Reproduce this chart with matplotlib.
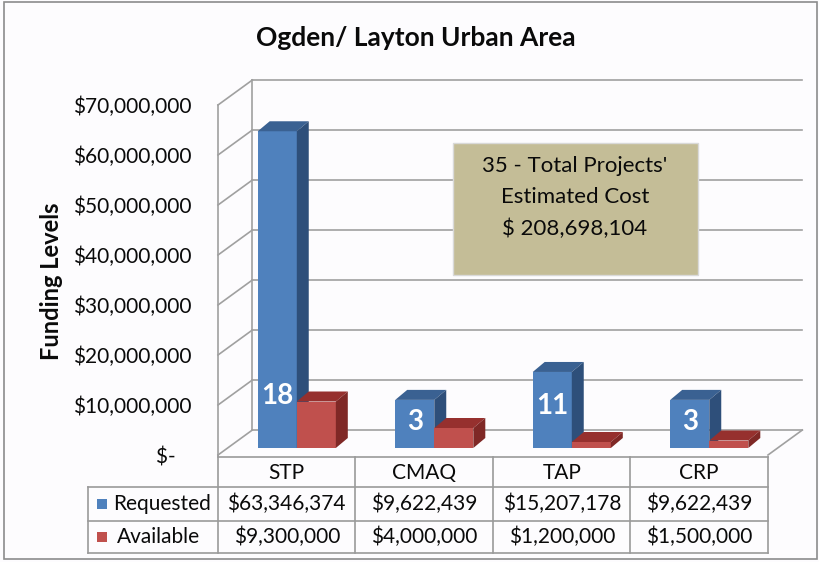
import matplotlib
matplotlib.use("Agg")
import numpy as np
from matplotlib import pyplot as plt
from matplotlib.patches import Rectangle, Polygon

plt.rcParams['font.family'] = ['Lato', 'DejaVu Sans']

categories = ["STP", "CMAQ", "TAP", "CRP"]
requested = [63346374, 9622439, 15207178, 9622439]
available = [9300000, 4000000, 1200000, 1500000]
project_counts = [18, 3, 11, 3]
series_names = ["Requested", "Available"]
yticks = [0, 10e6, 20e6, 30e6, 40e6, 50e6, 60e6, 70e6]

blue = ("#4F81BD", "#3A6192", "#2E4F7A")   # front, top, side
red = ("#C0504D", "#96302E", "#7F2826")
grid_c = "#A0A0A0"
txt_c = "#0A0A0A"

W, H = 820, 562
fig = plt.figure(figsize=(W / 100, H / 100), dpi=100)
fig.patch.set_facecolor("#FDFCFE")

# overlay in pixel coords for frame and table
ov = fig.add_axes([0, 0, 1, 1])
ov.set_xlim(0, W)
ov.set_ylim(H, 0)
ov.axis("off")
ov.add_patch(Rectangle((4, 2), 813, 557, fill=False, ec="#8C8C8C", lw=1.2))

# plot area: x 0..4 -> px 218..768, y 0..70M -> px 455..105
x0px, x1px, y0px, y1px = 218, 768, 455, 105
ax = fig.add_axes([x0px / W, (H - y0px) / H, (x1px - x0px) / W, (y0px - y1px) / H])
ax.set_xlim(0, 4)
ax.set_ylim(0, 70e6)
ax.patch.set_alpha(0)
for s in ax.spines.values():
    s.set_visible(False)
ax.set_xticks([])
ax.set_yticks(yticks)
ax.set_yticklabels(["$-   " if v == 0 else "${:,.0f}".format(v) for v in yticks],
                   fontsize=15, color=txt_c)
ax.tick_params(axis="y", length=0, pad=19)

# 3-D walls
dx, dy = 0.25, 5.0e6
for v in yticks:
    ax.plot([0, dx], [v, v + dy], color=grid_c, lw=1.2, clip_on=False)
    ax.plot([dx, 4 + dx], [v + dy, v + dy], color=grid_c, lw=1.2, clip_on=False)
ax.plot([dx, dx], [dy, 70e6 + dy], color=grid_c, lw=1.2, clip_on=False)
ax.plot([0, 0], [0, 70e6], color=grid_c, lw=1.2, clip_on=False)
ax.plot([4, 4 + dx], [0, dy], color=grid_c, lw=1.2, clip_on=False)

# bars
w = 0.284
bx, by = 0.073, 1.4e6
ddx, ddy = 0.087, 2.0e6


def bar3d(xl, v, cols):
    ax.add_patch(Rectangle((xl, by), w, v, fc=cols[0], ec="none", zorder=3, clip_on=False))
    top = [(xl, by + v), (xl + w, by + v), (xl + w + ddx, by + v + ddy), (xl + ddx, by + v + ddy)]
    side = [(xl + w, by), (xl + w + ddx, by + ddy), (xl + w + ddx, by + v + ddy), (xl + w, by + v)]
    ax.add_patch(Polygon(top, fc=cols[1], ec="none", zorder=3, clip_on=False))
    ax.add_patch(Polygon(side, fc=cols[2], ec="none", zorder=3, clip_on=False))


for i in range(len(categories)):
    bar3d(i + 0.5 - w + bx, requested[i], blue)
    bar3d(i + 0.5 + bx, available[i], red)
    ax.text(i + 0.5 - w / 2 + bx, by + min(requested[i] * 0.55, 10.5e6), str(project_counts[i]),
            color="white", fontsize=20, fontweight="bold", ha="center", va="center", zorder=4)

# total box
ax.add_patch(Rectangle((0.427, 0.514), 0.446, 0.377, transform=ax.transAxes,
                       fc="#C4BD97", ec="#D9D9D9", lw=1, zorder=5))
ax.text(0.649, 0.737, "35 - Total Projects'\nEstimated Cost\n$ 208,698,104",
        transform=ax.transAxes, ha="center", va="center", fontsize=16,
        linespacing=1.7, color=txt_c, zorder=6)

# titles
fig.text(416 / W, 1 - 38 / H, "Ogden/ Layton Urban Area", ha="center", va="center",
         fontsize=19, fontweight="bold", color=txt_c)
fig.text(52 / W, 1 - 281 / H, "Funding Levels", ha="center", va="center",
         rotation=90, fontsize=17, fontweight="bold", color=txt_c)

# data table
colw = (x1px - x0px) / len(categories)
rows_y = [457, 487, 521, 553]
tc = "#9A9A9A"
ov.plot([x0px, x1px], [rows_y[0], rows_y[0]], color=tc, lw=1.2)
for yy in rows_y[1:]:
    ov.plot([88, x1px], [yy, yy], color=tc, lw=1.2)
ov.plot([88, 88], [rows_y[1], rows_y[3]], color=tc, lw=1.2)
ov.plot([x0px, x0px], [y0px, rows_y[3]], color=tc, lw=1.2)
for i in range(1, len(categories) + 1):
    ov.plot([x0px + i * colw] * 2, [rows_y[0], rows_y[3]], color=tc, lw=1.2)

for i, c in enumerate(categories):
    cx = x0px + (i + 0.5) * colw
    ov.text(cx, (rows_y[0] + rows_y[1]) / 2 + 1, c, ha="center", va="center",
            fontsize=15, color=txt_c)
    for r, vals in enumerate([requested, available]):
        ov.text(cx, (rows_y[r + 1] + rows_y[r + 2]) / 2, "${:,.0f}".format(vals[i]),
                ha="center", va="center", fontsize=15, color=txt_c)

for r, (name, cols) in enumerate(zip(series_names, [blue, red])):
    cy = (rows_y[r + 1] + rows_y[r + 2]) / 2
    ov.add_patch(Rectangle((97, cy - 5), 10, 10, fc=cols[0], ec="none"))
    ov.text(113 if r == 0 else 117, cy, name, ha="left", va="center", fontsize=15, color=txt_c)

fig.savefig("out.png", dpi=100, facecolor=fig.get_facecolor())
